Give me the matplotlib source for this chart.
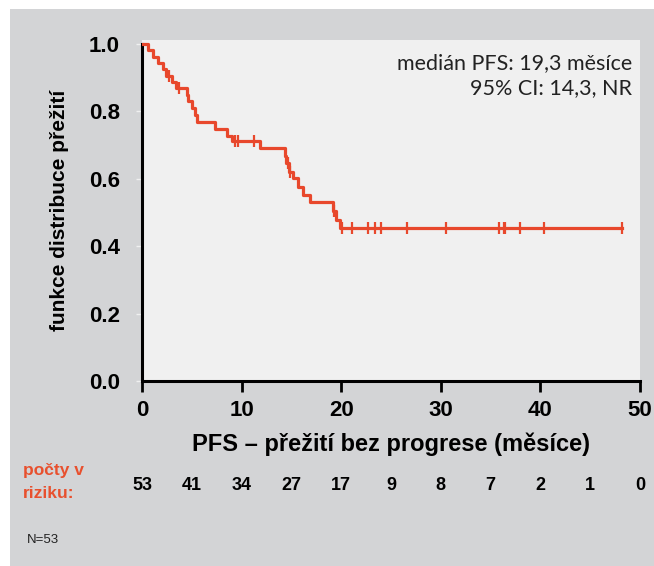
#!/usr/bin/env python3

import numpy as np
import matplotlib
matplotlib.use('Agg')
import matplotlib.pyplot as plt
import matplotlib.transforms as mtransforms
from matplotlib.patches import Rectangle

# KM steps (time in months, survival after the step)
step_t = [0, 0.64, 1.07, 1.6, 2.1, 2.4, 3.0, 3.4, 4.48, 4.62, 4.99, 5.3, 5.49,
          7.33, 8.5, 9.0, 11.85, 14.36, 14.5, 14.8, 15.2, 15.7, 16.2, 16.9,
          19.2, 19.5, 19.9]
step_s = [1.0, 0.981, 0.962, 0.943, 0.925, 0.906, 0.887, 0.869, 0.849, 0.830,
          0.810, 0.790, 0.769, 0.748, 0.727, 0.712, 0.690, 0.667, 0.646, 0.621,
          0.601, 0.577, 0.553, 0.532, 0.505, 0.478, 0.454]
last_t = 48.2

censor_t = [2.74, 3.75, 9.34, 9.67, 11.2, 14.7, 14.9, 19.3, 20.1, 21.05, 22.7,
            23.4, 23.96, 26.6, 30.5, 35.8, 36.3, 36.4, 37.95, 40.4, 48.2]

risk_t = [0, 5, 10, 15, 20, 25, 30, 35, 40, 45, 50]
risk_n = [53, 41, 34, 27, 17, 9, 8, 7, 2, 1, 0]

xticks = [0, 10, 20, 30, 40, 50]
yticks = [0.0, 0.2, 0.4, 0.6, 0.8, 1.0]

red = '#e8482c'
W, H = 654, 566

def fx(x):
    return x / W

def fy(y):
    return 1 - y / H

fig = plt.figure(figsize=(W / 100, H / 100), dpi=100)
fig.patch.set_facecolor('white')
fig.patches.append(Rectangle((fx(10), 0), 1 - fx(10), fy(9), transform=fig.transFigure,
                             facecolor='#d3d4d6', edgecolor='none', zorder=-5))

ax = fig.add_axes([fx(142), fy(381), fx(640) - fx(142), fy(40) - fy(381)])
ax.set_zorder(2)
ax.set_facecolor('#f0f0f0')

xs = step_t + [last_t]
ys = step_s + [step_s[-1]]
ax.step(xs, ys, where='post', color=red, lw=2.3, zorder=3)

idx = np.searchsorted(step_t, censor_t, side='right') - 1
cs = [step_s[i] for i in idx]
ax.plot(censor_t, cs, ls='none', marker='|', ms=8, mew=1.6, color=red, zorder=4)

ax.set_xlim(0, 50)
ax.set_ylim(0, 1.0119)
ax.set_xticks(xticks)
ax.set_yticks(yticks)
ax.set_xticklabels([str(t) for t in xticks], fontsize=16, fontweight='bold',
                   family='Liberation Sans')
ax.set_yticklabels(['%.1f' % t for t in yticks], fontsize=16, fontweight='bold',
                   family='Liberation Sans')
ax.tick_params(axis='x', length=8, width=2, pad=6)
ax.tick_params(axis='y', length=4, width=1, color='#f0f0f0', pad=12)
for s in ['top', 'right']:
    ax.spines[s].set_visible(False)
for s in ['left', 'bottom']:
    ax.spines[s].set_linewidth(2.2)
ax.spines['left'].set_bounds(0, 1.0)

ax.set_xlabel('PFS – přežití bez progrese (měsíce)', fontsize=17, fontweight='bold',
              family='Liberation Sans', labelpad=8)
ax.set_ylabel('funkce distribuce přežití', fontsize=15, fontweight='bold',
              family='Liberation Sans', labelpad=14)

fig.text(fx(632), fy(63), 'medián PFS: 19,3 měsíce', ha='right', va='center',
         fontsize=15.5, family='Lato', color='#222222')
fig.text(fx(632), fy(88), '95% CI: 14,3, NR', ha='right', va='center',
         fontsize=15.5, family='Lato', color='#222222')

trans = mtransforms.blended_transform_factory(ax.transData, fig.transFigure)
for t, n in zip(risk_t, risk_n):
    ax.text(t, fy(485), str(n), transform=trans, ha='center', va='center',
            fontsize=13, fontweight='bold', family='Liberation Sans', clip_on=False)

fig.text(fx(23), fy(470), 'počty v', ha='left', va='center', fontsize=12.5,
         fontweight='bold', family='Liberation Sans', color='#e8502e')
fig.text(fx(23), fy(494), 'riziku:', ha='left', va='center', fontsize=12.5,
         fontweight='bold', family='Liberation Sans', color='#e8502e')
fig.text(fx(27), fy(540), 'N=53', ha='left', va='center', fontsize=9.5,
         family='Liberation Sans', color='#222222')

fig.savefig('out.png', dpi=100, facecolor=fig.get_facecolor())
